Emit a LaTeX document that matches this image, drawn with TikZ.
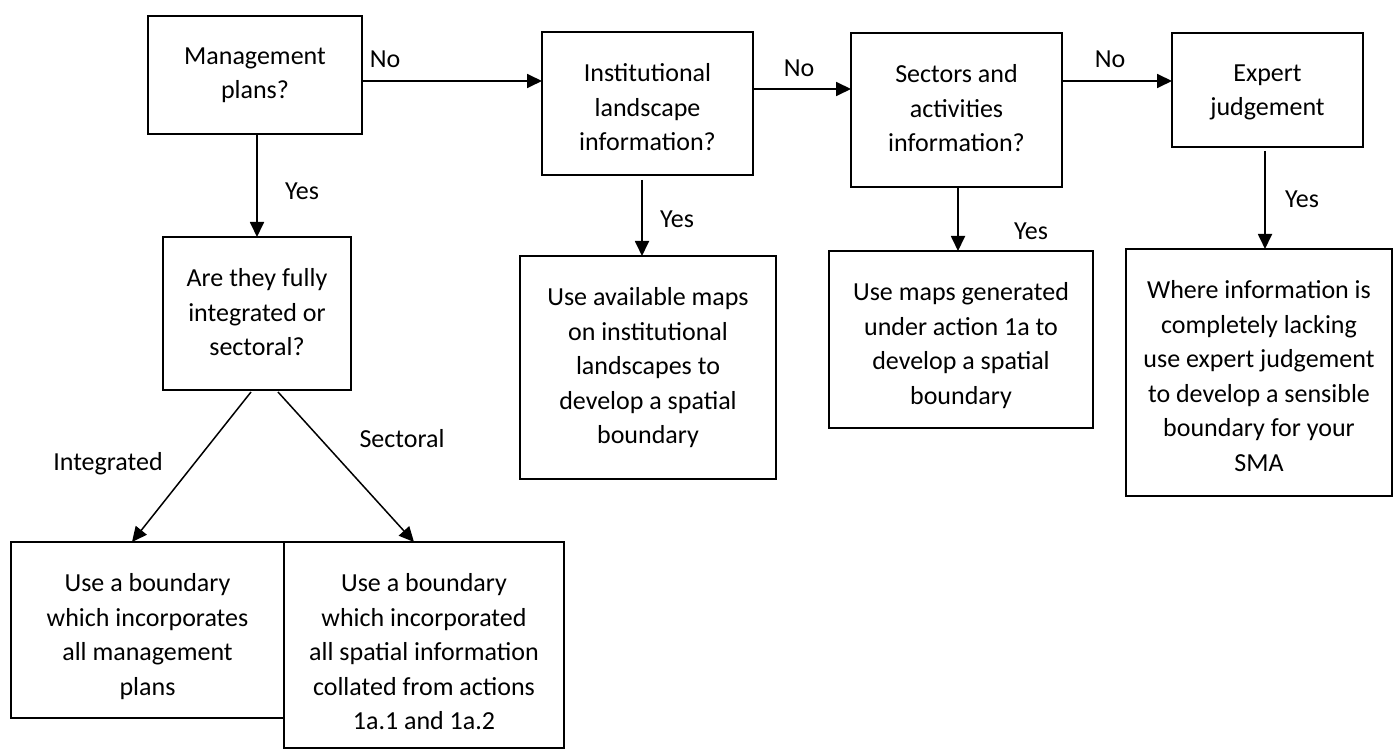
\documentclass[tikz,border=0pt]{standalone}
\usepackage{fontspec}
\setmainfont{Carlito}
\usetikzlibrary{arrows.meta,calc}
% fixed-height strut so every text block hangs from the same first baseline
\newcommand\firstln{\rule{0pt}{24pt}}

\begin{document}
\begin{tikzpicture}[x=1pt,y=-1pt,
  box/.style={draw, line width=1.8pt, inner sep=0pt, outer sep=0pt},
  txt/.style={anchor=north, align=center, inner sep=0pt,
    font=\fontsize{26}{34.5}\selectfont, execute at begin node=\firstln},
  lbl/.style={anchor=base, inner sep=0pt, font=\fontsize{26}{34.5}\selectfont},
  arr/.style={line width=1.8pt, -{Triangle[length=15pt,width=14pt]}}]
\useasboundingbox (0,0) rectangle (1395,751);

% ---- boxes ----
\node[box, minimum width=214pt, minimum height=118pt] (mgmt)   at (255,75) {};
\node[box, minimum width=211pt, minimum height=143pt] (inst)   at (647.5,103.5) {};
\node[box, minimum width=211pt, minimum height=154pt] (sect)   at (956.5,110) {};
\node[box, minimum width=191pt, minimum height=114pt] (expert) at (1267.5,90) {};
\node[box, minimum width=188pt, minimum height=153pt] (are)    at (257,313.5) {};
\node[box, minimum width=256pt, minimum height=223pt] (avail)  at (648,367.5) {};
\node[box, minimum width=264pt, minimum height=177pt] (gen)    at (961,339.5) {};
\node[box, minimum width=266pt, minimum height=247pt] (where)  at (1259,372.5) {};
\node[box, minimum width=273pt, minimum height=176pt] (integ)  at (147.5,630) {};
\node[box, minimum width=280pt, minimum height=206pt] (sector) at (424,645) {};

% ---- box texts ----
\node[txt] (mgmtT)   at ([yshift=-31.5pt]mgmt.north)   {Management\\plans?};
\node[txt] (instT)   at ([yshift=-31.5pt]inst.north)   {Institutional\\landscape\\information?};
\node[txt] (sectT)   at ([yshift=-31.5pt]sect.north)   {Sectors and\\activities\\information?};
\node[txt] (expertT) at ([yshift=-31.5pt]expert.north) {Expert\\judgement};
\node[txt] (areT)    at ([yshift=-31.5pt]are.north)    {Are they fully\\integrated or\\sectoral?};
\node[txt] (availT)  at ([yshift=-31.5pt]avail.north)  {Use available maps\\on institutional\\landscapes to\\develop a spatial\\boundary};
\node[txt] (genT)    at ([yshift=-31.5pt]gen.north)    {Use maps generated\\under action 1a to\\develop a spatial\\boundary};
\node[txt] (whereT)  at ([yshift=-31.5pt]where.north)  {Where information is\\completely lacking\\use expert judgement\\to develop a sensible\\boundary for your\\SMA};
\node[txt] (integT)  at ([yshift=-31.5pt]integ.north)  {Use a boundary\\which incorporates\\all management\\plans};
\node[txt] (sectorT) at ([yshift=-31.5pt]sector.north) {Use a boundary\\which incorporated\\all spatial information\\collated from actions\\1a.1 and 1a.2};

% ---- connectors ----
\draw[arr] ([yshift=-6pt]mgmt.east) -- ([yshift=22.5pt]inst.west);
\draw[arr] ([yshift=14.5pt]inst.east) -- ([yshift=21pt]sect.west);
\draw[arr] ([yshift=29pt]sect.east) -- ([yshift=9pt]expert.west);
\draw[arr] (are.north |- mgmt.south) -- (are.north);
\draw[arr] ($(inst.south)+(-5.5,5)$) -- ($(avail.north)+(-6,0)$);
\draw[arr] ($(sect.south)+(1.5,0)$) -- ($(gen.north)+(-3,0)$);
\draw[arr] ($(expert.south)+(-2.5,4)$) -- ($(where.north)+(6,0)$);
\draw[arr, line width=1.5pt] ($(are.south)+(-6,2)$) -- ($(integ.north)+(-15.5,0)$);
\draw[arr, line width=1.5pt] ($(are.south)+(21,2)$) -- ($(sector.north)+(-10,0)$);

% ---- connector labels ----
\node[lbl] (noA)   at (385,68)   {No};
\node[lbl] (noB)   at (799,77)   {No};
\node[lbl] (noC)   at (1110,68)  {No};
\node[lbl] (yesA)  at (302,200)  {Yes};
\node[lbl] (yesB)  at (677,228)  {Yes};
\node[lbl] (yesC)  at (1031,240) {Yes};
\node[lbl] (yesD)  at (1302,208) {Yes};
\node[lbl] (intL)  at (108,470)  {Integrated};
\node[lbl] (secL)  at (402,447)  {Sectoral};
\end{tikzpicture}
\end{document}
